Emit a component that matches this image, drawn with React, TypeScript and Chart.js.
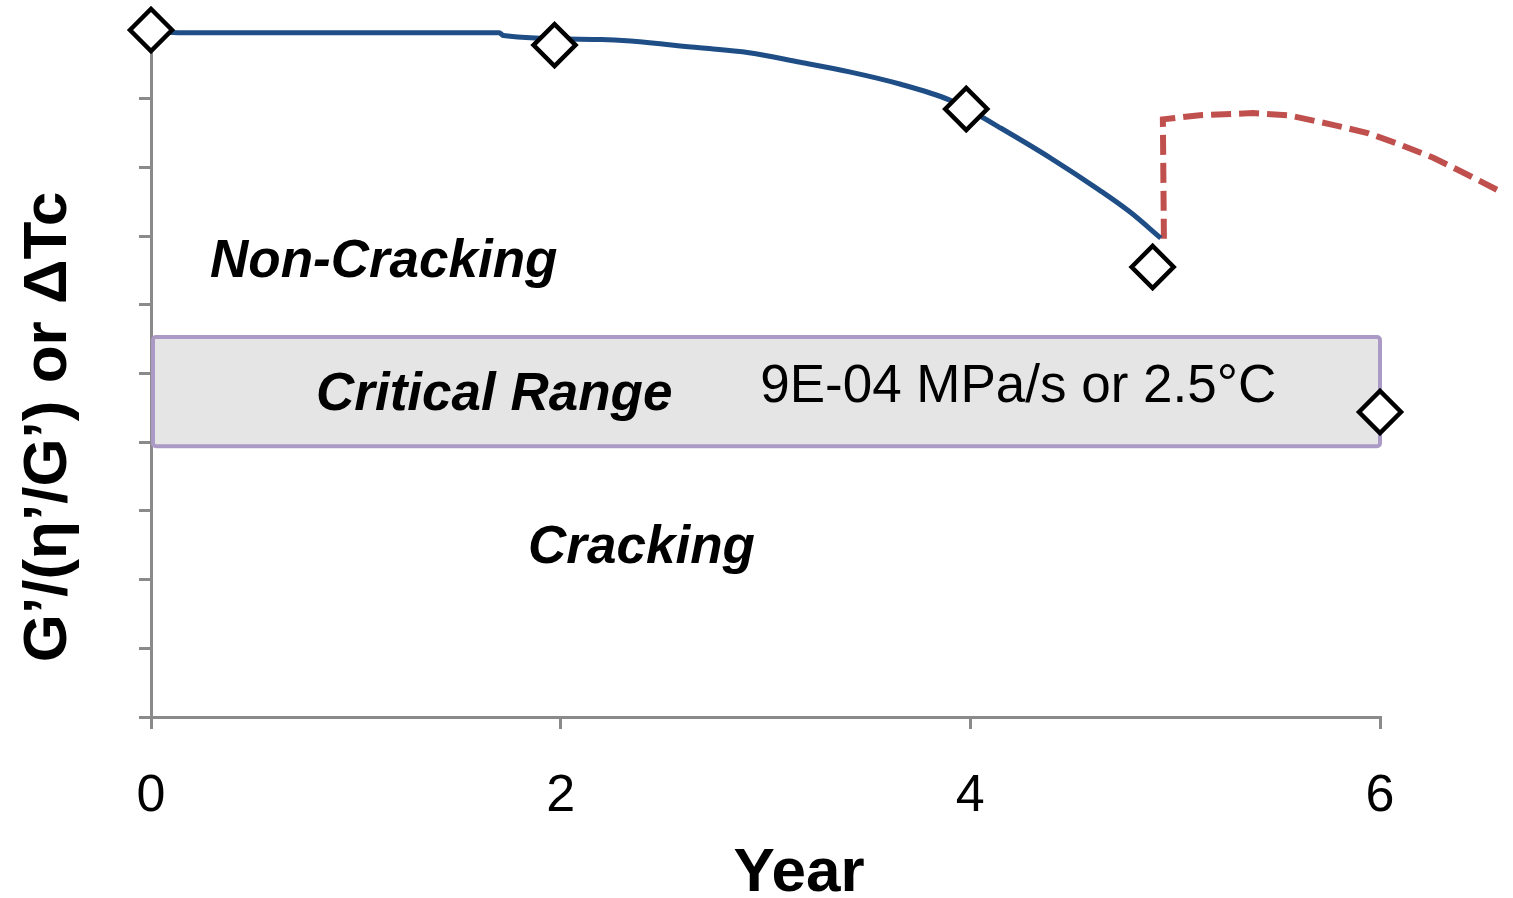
import React, { useEffect, useRef } from 'react';
import { Chart, registerables } from 'chart.js';

Chart.register(...registerables);

// ---- data ----
const xTickValues = [0, 2, 4, 6];
const yRange = [0, 10];

const measuredYears = [0, 1.97, 3.98, 4.89, 6.0];
const measuredValues = [10.0, 9.78, 8.85, 6.55, 4.44];

const fitYears = [0, 0.15, 1.7, 1.72, 2.2, 2.68, 2.92, 3.17, 3.41, 3.66, 3.9, 3.98, 4.15, 4.39, 4.63, 4.78, 4.93];
const fitValues = [9.98, 9.96, 9.96, 9.92, 9.86, 9.74, 9.67, 9.53, 9.39, 9.21, 8.98, 8.86, 8.57, 8.14, 7.67, 7.35, 6.97];

const projYears = [4.945, 4.94, 5.12, 5.38, 5.55, 5.77, 5.94, 6.1, 6.26, 6.43, 6.6];
const projValues = [6.96, 8.7, 8.76, 8.79, 8.76, 8.62, 8.5, 8.33, 8.14, 7.89, 7.63];

const criticalYears = [0, 6];
const criticalValues = [3.94, 5.53];

const regionLabels = ['Non-Cracking', 'Critical Range', 'Cracking'];
const criticalNote = '9E-04 MPa/s or 2.5°C';
const xTitle = 'Year';
const yTitle = 'G’/(η’/G’) or ΔTc';

const FONT = '"Liberation Sans", Arial, Helvetica, sans-serif';

const toPoints = (xs: number[], ys: number[]) => xs.map((x, i) => ({ x, y: ys[i] }));

const overlayPlugin = {
  id: 'overlay',
  beforeDatasetsDraw(chart: any) {
    const { ctx, scales } = chart;
    const x = scales.x;
    const y = scales.y;
    const l = x.getPixelForValue(criticalYears[0]) + 2;
    const r = x.getPixelForValue(criticalYears[1]);
    const t = y.getPixelForValue(criticalValues[1]);
    const b = y.getPixelForValue(criticalValues[0]);
    ctx.save();
    ctx.beginPath();
    if ((ctx as any).roundRect) (ctx as any).roundRect(l, t, r - l, b - t, 3);
    else ctx.rect(l, t, r - l, b - t);
    ctx.fillStyle = '#e5e5e5';
    ctx.fill();
    ctx.lineWidth = 4;
    ctx.strokeStyle = '#ab9ac6';
    ctx.stroke();
    ctx.restore();
  },
  afterDraw(chart: any) {
    const { ctx, scales } = chart;
    const x = scales.x;
    const y = scales.y;
    ctx.save();
    ctx.fillStyle = '#000';
    ctx.textBaseline = 'alphabetic';
    ctx.textAlign = 'left';
    ctx.font = `italic bold 53px ${FONT}`;
    ctx.fillText(regionLabels[0], x.getPixelForValue(0.288), y.getPixelForValue(6.4));
    ctx.fillText(regionLabels[1], x.getPixelForValue(0.806), y.getPixelForValue(4.47));
    ctx.fillText(regionLabels[2], x.getPixelForValue(1.841), y.getPixelForValue(2.24));
    ctx.font = `53px ${FONT}`;
    ctx.fillText(criticalNote, x.getPixelForValue(2.974), y.getPixelForValue(4.585));

    // axis titles
    ctx.font = `bold 62px ${FONT}`;
    ctx.textAlign = 'center';
    ctx.fillText(xTitle, 799, 891);
    ctx.translate(66, 427);
    ctx.rotate(-Math.PI / 2);
    ctx.fillText(yTitle, 0, 0);
    ctx.restore();
  },
};

export default function App() {
  const canvasRef = useRef<HTMLCanvasElement | null>(null);

  useEffect(() => {
    if (!canvasRef.current) return;
    const chart = new Chart(canvasRef.current, {
      type: 'scatter',
      data: {
        datasets: [
          {
            label: 'Measured',
            data: toPoints(measuredYears, measuredValues),
            pointStyle: 'rectRot',
            pointRadius: 21,
            pointBorderWidth: 4.5,
            pointBorderColor: '#000',
            pointBackgroundColor: '#fff',
            showLine: false,
            clip: false,
          } as any,
          {
            label: 'Fit',
            data: toPoints(fitYears, fitValues),
            showLine: true,
            borderColor: '#1f4e86',
            borderWidth: 5,
            pointRadius: 0,
            cubicInterpolationMode: 'monotone',
            clip: false,
          } as any,
          {
            label: 'Projection',
            data: toPoints(projYears, projValues),
            showLine: true,
            borderColor: '#c0504d',
            borderWidth: 6,
            borderDash: [20, 8],
            pointRadius: 0,
            tension: 0,
            clip: false,
          } as any,
        ],
      },
      options: {
        animation: false,
        responsive: false,
        maintainAspectRatio: false,
        layout: { padding: { top: 30, right: 133, left: 0, bottom: 0 } },
        plugins: { legend: { display: false }, tooltip: { enabled: false } },
        events: [],
        scales: {
          x: {
            type: 'linear',
            min: xTickValues[0],
            max: xTickValues[xTickValues.length - 1],
            afterBuildTicks: (s: any) => {
              s.ticks = xTickValues.map((v) => ({ value: v }));
            },
            grid: {
              drawOnChartArea: false,
              drawTicks: true,
              tickLength: 12,
              color: '#8a8a8a',
              lineWidth: 3,
            },
            border: { color: '#8a8a8a', width: 3 },
            ticks: {
              color: '#000',
              font: { family: FONT, size: 52 },
              padding: 36,
              maxRotation: 0,
              callback: (v: any) => String(v),
            },
            afterFit: (s: any) => {
              s.height = 898 - 717;
            },
          },
          y: {
            type: 'linear',
            min: yRange[0],
            max: yRange[1],
            ticks: { display: false, stepSize: 1 },
            grid: {
              drawOnChartArea: false,
              drawTicks: true,
              tickLength: 12,
              color: '#8a8a8a',
              lineWidth: 3,
            },
            border: { color: '#8a8a8a', width: 3 },
            afterFit: (s: any) => {
              s.width = 151;
            },
          },
        },
      },
      plugins: [overlayPlugin],
    });
    return () => chart.destroy();
  }, []);

  return (
    <div style={{ position: 'absolute', left: 0, top: 0, width: 1513, height: 898, background: '#fff' }}>
      <canvas ref={canvasRef} width={1513} height={898} />
    </div>
  );
}
